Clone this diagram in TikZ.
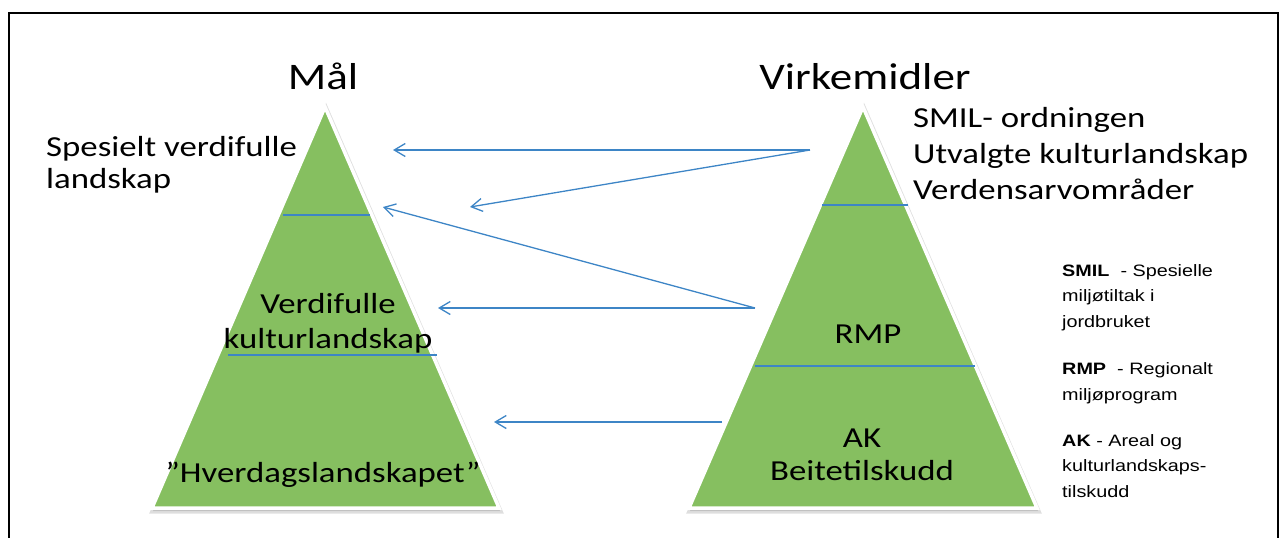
\documentclass[tikz,border=0pt]{standalone}
\usepackage{fontspec}
\setmainfont{Carlito}[FakeStretch=1.2]
\newfontfamily\arialf{Liberation Sans}[FakeStretch=1.2]
\usetikzlibrary{arrows.meta}
\definecolor{tgreen}{RGB}{134,191,96}
\definecolor{lblue}{RGB}{61,133,198}
\tikzset{
 tri/.style={fill=tgreen, draw=white, line width=3.5pt, line join=miter},
 shadowtri/.style={fill=black, draw=black, line width=5pt, line join=miter, opacity=0.13},
 sep/.style={draw=lblue, line width=1.3pt},
 arr/.style={draw=lblue, line width=1.3pt, -{Straight Barb[length=11pt,width=13pt,line width=1.3pt]}},
 frame/.style={draw=black, line width=2pt},
 title/.style={font=\fontsize{37.5}{40}\selectfont, inner sep=0pt, anchor=base},
 lbl/.style={font=\fontsize{29}{35}\selectfont, inner sep=0pt, anchor=base, align=center},
 lbll/.style={font=\fontsize{29}{34}\selectfont, inner sep=0pt, anchor=base west, align=left},
 note/.style={font=\arialf\fontsize{16.5}{25.5}\selectfont, inner sep=0pt, anchor=base west, align=left},
}
\begin{document}
\begin{tikzpicture}[x=1pt,y=-1pt]
\useasboundingbox (0,0) rectangle (1286,538);
% frame
\draw[frame] (8.5,538) -- (8.5,12.5) -- (1278,12.5) -- (1278,538);
% shadows
\path[shadowtri] (326,109) -- (500,511) -- (153,511) -- cycle;
\path[shadowtri] (864,109) -- (1038,511) -- (690,511) -- cycle;
% triangles
\path[tri] (325,107) -- (499,508) -- (152,508) -- cycle;
\path[tri] (863,107) -- (1037,508) -- (689,508) -- cycle;
% separators
\draw[sep] (283,215) -- (370,215);
\draw[sep] (228,355) -- (437,355);
\draw[sep] (822,205) -- (908,205);
\draw[sep] (755,366) -- (975,366);
% titles
\node[title] (mal) at (323,89) {Mål};
\node[title] (virk) at (865,89) {Virkemidler};
% left texts (anchor base = last line)
\node[lbll, font=\fontsize{29}{32}\selectfont] (spes) at (46,188) {Spesielt verdifulle\\landskap};
\node[lbl] (verd) at (328,348) {Verdifulle\\kulturlandskap};
\node[lbl] (hverd) at (323,482) {”Hverdagslandskapet”};
% right texts
\node[lbll, font=\fontsize{29}{36}\selectfont] (tiltak) at (913,199) {SMIL- ordningen\\Utvalgte kulturlandskap\\Verdensarvområder};
\node[lbl] (rmp) at (868,343) {RMP};
\node[lbl, font=\fontsize{29}{33}\selectfont] (ak) at (862,480) {AK\\Beitetilskudd};
% notes
\node[note] (n1) at (1062,327) {\textbf{SMIL}\ \ - Spesielle\\miljøtiltak i\\jordbruket};
\node[note] (n2) at (1062,400) {\textbf{RMP}\ \ - Regionalt\\miljøprogram};
\node[note] (n3) at (1062,497) {\textbf{AK}\ - Areal og\\kulturlandskaps-\\tilskudd};
% arrow endpoints
\coordinate (s1) at (810,150);
\coordinate (s2) at (755,308);
\coordinate (s3) at (722,422);
\coordinate (t1) at (393,150);
\coordinate (t2) at (470,207);
\coordinate (t3) at (383,207);
\coordinate (t4) at (438,308);
\coordinate (t5) at (494,422);
\draw[arr] (s1) -- (t1);
\draw[arr] (s1) -- (t2);
\draw[arr] (s2) -- (t3);
\draw[arr] (s2) -- (t4);
\draw[arr] (s3) -- (t5);
\end{tikzpicture}
\end{document}
